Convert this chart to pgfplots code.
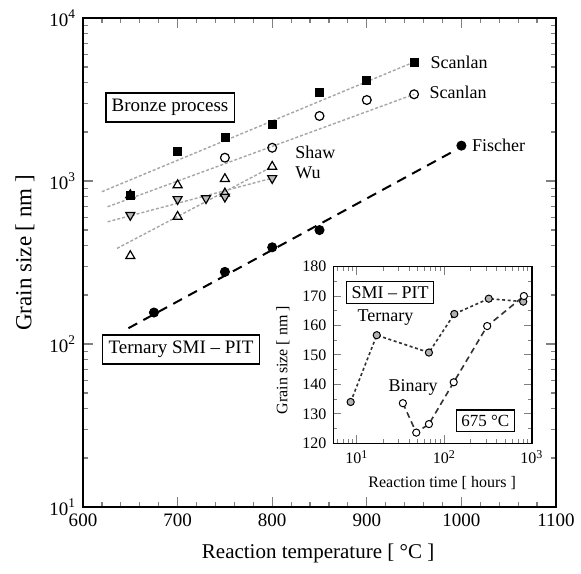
\documentclass[border=0pt]{standalone}
\usepackage{fontspec}
\setmainfont{Liberation Serif}
\usepackage{pgfplots}
\pgfplotsset{compat=1.18}
\begin{document}
\begin{tikzpicture}
\path[use as bounding box] (-41.5pt,-33pt) rectangle (249pt,253.5pt);
\begin{axis}[
  at={(0,0)}, anchor=south west, scale only axis,
  width=236.5pt, height=244.5pt,
  xmin=600, xmax=1100, ymode=log, ymin=10, ymax=10000,
  xtick={600,700,...,1100}, minor x tick num=4,
  ytick={10,100,1000,10000},
  minor ytick={20,30,40,50,60,70,80,90,200,300,400,500,600,700,800,900,2000,3000,4000,5000,6000,7000,8000,9000},
  yticklabels={10\textsuperscript{1},10\textsuperscript{2},10\textsuperscript{3},10\textsuperscript{4}},
  /pgf/number format/assume math mode=true,
  /pgf/number format/1000 sep={},
  tick align=inside, major tick length=5pt, minor tick length=2.5pt,
  axis line style={line width=0.8pt},
  tick style={line width=0.6pt},
  ticklabel style={font=\fontsize{9.5}{11}\selectfont},
  label style={font=\fontsize{10.5}{12}\selectfont},
  xlabel={Reaction temperature [ °C ]},
  ylabel={Grain size [ nm ]},
  xlabel style={at={(axis description cs:0.497,-0.094)}, anchor=center},
  ylabel style={at={(axis description cs:-0.123,0.52)}, anchor=center, font=\fontsize{11.5}{13}\selectfont},
]
% fit lines (dotted gray)
\addplot[gray!70, line width=0.7pt, dash pattern=on 1.5pt off 1pt] coordinates {(620,860) (950,5370)};
\addplot[gray!70, line width=0.7pt, dash pattern=on 1.5pt off 1pt] coordinates {(626,695) (950,3405)};
\addplot[gray!70, line width=0.7pt, dash pattern=on 1.5pt off 1pt] coordinates {(626,562) (805,1060)};
\addplot[gray!70, line width=0.7pt, dash pattern=on 1.5pt off 1pt] coordinates {(636,386) (800,1225)};
% ternary SMI-PIT dashed
\addplot[black, line width=1pt, dash pattern=on 5pt off 3.5pt] coordinates {(648,125) (995,1560)};
% Scanlan filled squares
\addplot[only marks, mark=square*, mark size=2pt, mark options={fill=black}] coordinates {
(650,820) (700,1513) (750,1845) (800,2238) (850,3483) (900,4170) (950,5370)};
% open circles
\addplot[only marks, mark=o, mark size=2.2pt, mark options={line width=0.6pt}] coordinates {
(750,1390) (800,1600) (850,2506) (900,3140) (950,3405)};
% Shaw open up-triangles
\addplot[only marks, mark=triangle, mark size=2.6pt, mark options={line width=0.6pt}] coordinates {
(650,820) (650,347) (700,944) (700,604) (750,1030) (750,840) (800,1225)};
% Wu down-triangles
\addplot[only marks, mark=triangle*, mark size=2.6pt, mark options={rotate=180, fill=gray!55, draw=black, line width=0.6pt}] coordinates {
(650,618) (700,773) (730,783) (750,800) (800,1040)};
% Fischer filled circles
\addplot[only marks, mark=*, mark size=2.3pt, mark options={fill=black}] coordinates {
(675,156) (750,277) (800,392) (850,500) (1000,1648)};
% labels
\node[draw, line width=0.8pt, inner sep=3pt, font=\fontsize{9.5}{11}\selectfont] at (axis cs:692,2825) {Bronze process};
\node[draw, line width=0.8pt, inner sep=3pt, font=\fontsize{9.5}{11}\selectfont] at (axis cs:703.6,92.5) {Ternary SMI -- PIT};
\node[anchor=west, inner sep=0pt, font=\fontsize{9}{11}\selectfont] at (axis cs:967,5370) {Scanlan};
\node[anchor=west, inner sep=0pt, font=\fontsize{9}{11}\selectfont] at (axis cs:966,3515) {Scanlan};
\node[anchor=west, inner sep=0pt, font=\fontsize{9}{11}\selectfont] at (axis cs:824,1506) {Shaw};
\node[anchor=west, inner sep=0pt, font=\fontsize{9}{11}\selectfont] at (axis cs:824,1120) {Wu};
\node[anchor=west, inner sep=0pt, font=\fontsize{9}{11}\selectfont] at (axis cs:1011,1663) {Fischer};
\end{axis}
\begin{axis}[
  at={(125.2pt,31.9pt)}, anchor=south west, scale only axis,
  width=99.2pt, height=88.3pt,
  xmode=log, xmin=5.4, xmax=1000, ymin=120, ymax=180,
  xtick={10,100,1000},
  minor xtick={6,7,8,9,20,30,40,50,60,70,80,90,200,300,400,500,600,700,800,900},
  xticklabels={10\textsuperscript{1},10\textsuperscript{2},10\textsuperscript{3}},
  ytick={120,130,...,180}, minor y tick num=1,
  /pgf/number format/assume math mode=true,
  tick align=inside, major tick length=4pt, minor tick length=2pt,
  axis line style={line width=0.7pt},
  tick style={line width=0.5pt},
  axis background/.style={fill=white},
  ticklabel style={font=\fontsize{8}{9}\selectfont},
  label style={font=\fontsize{8}{9}\selectfont},
  xlabel={Reaction time [ hours ]},
  ylabel={Grain size [ nm ]},
  xlabel style={at={(axis description cs:0.548,-0.225)}, anchor=center},
  ylabel style={at={(axis description cs:-0.254,0.47)}, anchor=center},
  clip=false,
]
\addplot[black!80, line width=0.8pt, dash pattern=on 1.5pt off 1.3pt, mark=*, mark size=1.8pt, mark options={solid, fill=gray!60, draw=black, line width=0.5pt}] coordinates {
(8.5,134) (16.9,156.7) (66.7,150.8) (130,163.9) (322,169.1) (798,168.1)};
\addplot[black!80, line width=0.8pt, dash pattern=on 3pt off 2pt, mark=*, mark size=1.8pt, mark options={solid, fill=white, draw=black, line width=0.5pt}] coordinates {
(33.6,133.6) (47.8,123.6) (66.7,126.5) (128,140.7) (309,159.8) (812,170)};
\node[draw, line width=0.7pt, inner sep=2.5pt, font=\fontsize{9}{10}\selectfont] at (axis cs:24,171.2) {SMI -- PIT};
\node[font=\fontsize{9}{10}\selectfont] at (axis cs:21.3,162.6) {Ternary};
\node[font=\fontsize{9}{10}\selectfont] at (axis cs:44,139.1) {Binary};
\node[draw, line width=0.7pt, inner sep=2.5pt, font=\fontsize{8.5}{10}\selectfont] at (axis cs:294,127.6) {675 °C};
\end{axis}
\end{tikzpicture}
\end{document}
